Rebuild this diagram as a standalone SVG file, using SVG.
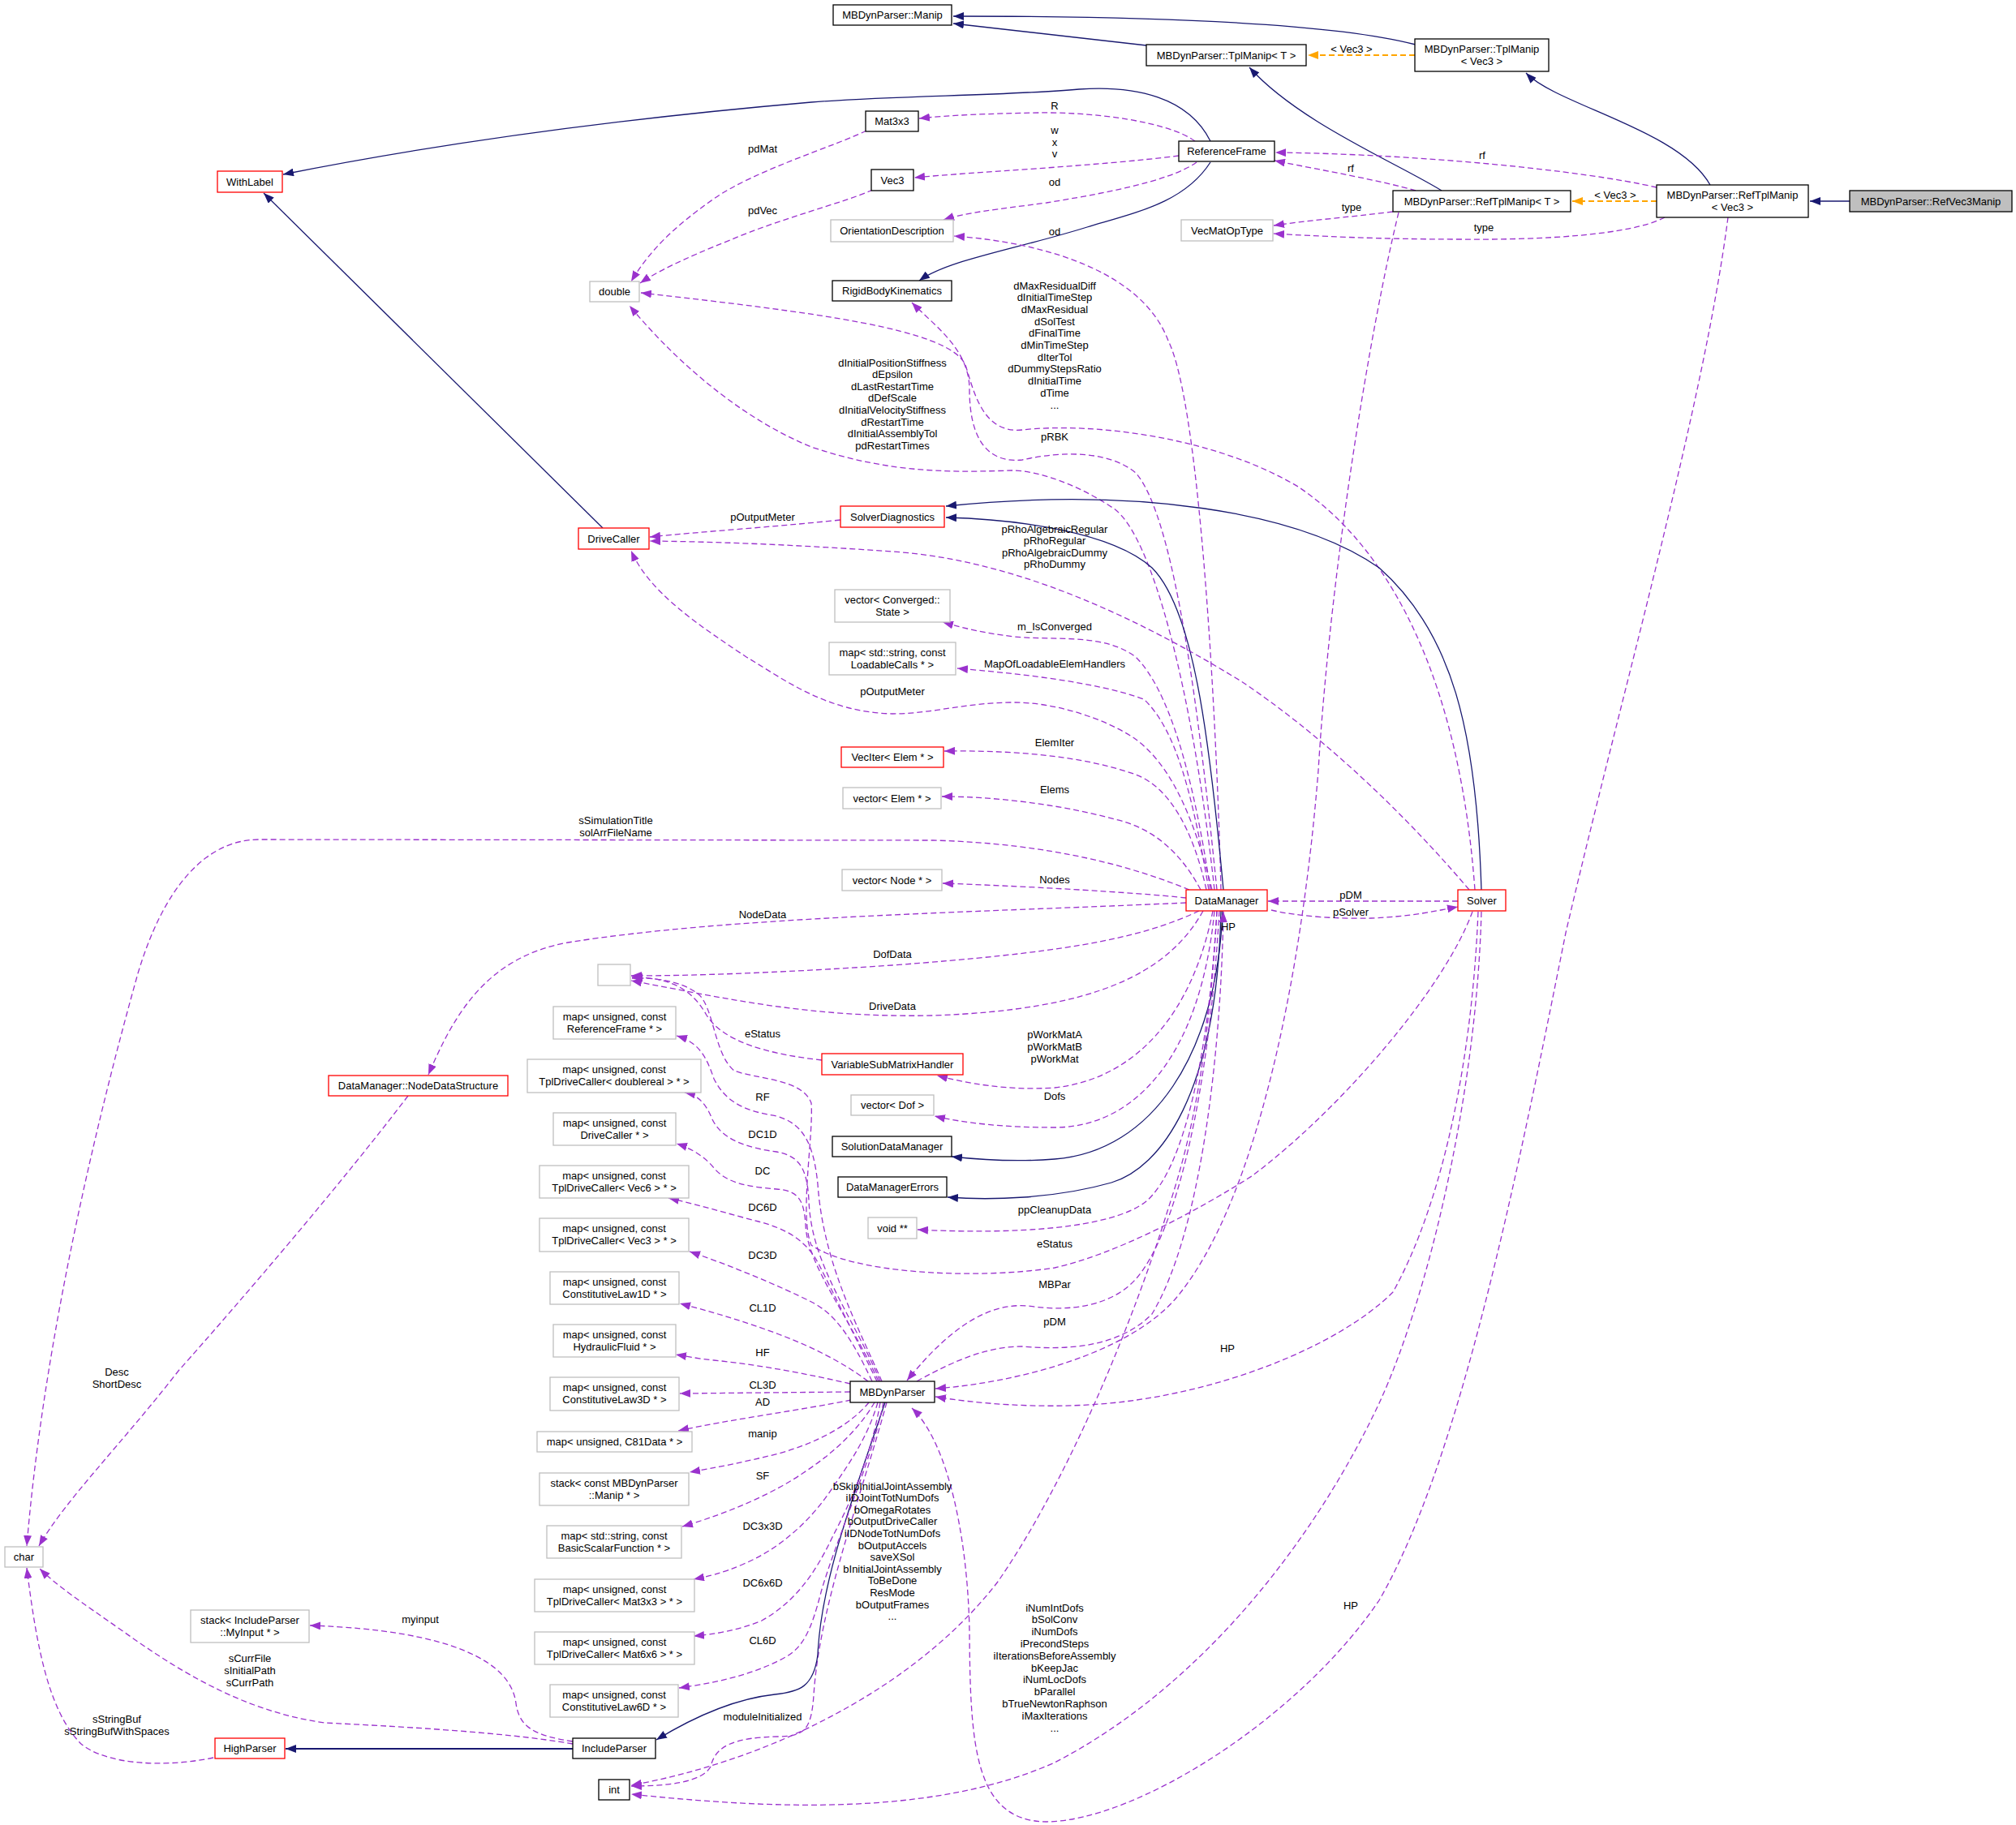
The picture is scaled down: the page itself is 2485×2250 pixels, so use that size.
<svg xmlns="http://www.w3.org/2000/svg" width="2485" height="2250" viewBox="0 0 2485 2250">
<style>
text { font-family: "Liberation Sans", Arial, Helvetica, sans-serif; font-size: 13px; text-anchor: middle; fill: #000; }
.nb rect { fill: #fff; stroke: #000; stroke-width: 1.3; }
.nr rect { fill: #fff; stroke: #ff0000; stroke-width: 1.3; }
.ng rect { fill: #fff; stroke: #bfbfbf; stroke-width: 1.3; }
.nf rect { fill: #bfbfbf; stroke: #000; stroke-width: 1.3; }
.s { fill: none; stroke: #191970; stroke-width: 1.3; marker-end: url(#mb); }
.d { fill: none; stroke: #9a32cd; stroke-width: 1.3; stroke-dasharray: 7,4; marker-end: url(#mp); }
.o { fill: none; stroke: #ffa500; stroke-width: 2; stroke-dasharray: 7,4; marker-end: url(#mo); }
</style>
<defs>
<marker id="mb" markerUnits="userSpaceOnUse" markerWidth="14" markerHeight="10" refX="13" refY="5" orient="auto"><path d="M0,0 L13,5 L0,10 z" fill="#191970"/></marker>
<marker id="mp" markerUnits="userSpaceOnUse" markerWidth="14" markerHeight="10" refX="13" refY="5" orient="auto"><path d="M0,0 L13,5 L0,10 z" fill="#9a32cd"/></marker>
<marker id="mo" markerUnits="userSpaceOnUse" markerWidth="14" markerHeight="10" refX="13" refY="5" orient="auto"><path d="M0,0 L13,5 L0,10 z" fill="#ffa500"/></marker>
</defs>
<rect x="0" y="0" width="2485" height="2250" fill="#fff"/>

<g id="connectors">
<path class="s" d="M1413,56 L1175,29"/>
<path class="s" d="M1745,55 C1650,30 1450,20 1175,20"/>
<path class="o" d="M1744,68 L1612,68"/>
<path class="s" d="M2108,228 C2070,160 1920,130 1881,90"/>
<path class="s" d="M1777,235 C1720,200 1600,150 1540,83"/>
<path class="s" d="M2280,248 L2231,248"/>
<path class="o" d="M2042,248 L1938,248"/>
<path class="s" d="M1492,174 C1465,120 1400,105 1330,110 C1240,118 1100,118 1000,126 C780,145 550,175 349,215"/>
<path class="d" d="M1473,174 C1440,150 1350,138 1280,139 C1220,140 1170,142 1133,146"/>
<path class="d" d="M1453,192 C1350,205 1200,212 1127,219"/>
<path class="d" d="M1475,200 C1440,225 1350,240 1290,250 C1230,258 1190,262 1163,271"/>
<path class="d" d="M1745,235 C1700,222 1630,210 1571,198"/>
<path class="d" d="M2042,231 C1950,210 1750,190 1572,188"/>
<path class="d" d="M1717,261 C1660,268 1610,272 1570,278"/>
<path class="d" d="M2052,268 C2010,290 1900,296 1800,295 C1700,295 1620,291 1570,288"/>
<path class="s" d="M1492,200 C1460,250 1400,262 1340,280 C1250,308 1170,320 1133,346"/>
<path class="d" d="M1068,161 C1030,180 930,210 880,245 C830,280 800,310 778,347"/>
<path class="d" d="M1076,234 C1040,250 960,270 900,296 C840,320 810,335 789,349"/>
<path class="d" d="M1505,1097 C1500,900 1480,500 1440,420 C1410,340 1300,300 1176,291"/>
<path class="d" d="M1500,1097 C1480,900 1450,640 1400,583 C1360,550 1290,560 1260,567 C1210,572 1195,530 1195,480 C1195,430 1150,400 1124,373"/>
<path class="d" d="M1497,1097 C1470,850 1420,660 1373,627 C1330,598 1280,580 1247,580 C1180,582 1100,585 1000,551 C900,510 820,430 776,377"/>
<path class="d" d="M1818,1097 C1800,850 1720,680 1600,600 C1500,540 1350,520 1260,530 C1210,535 1200,480 1190,450 C1170,405 1000,385 790,361"/>
<path class="s" d="M1826,1097 C1820,900 1790,780 1700,700 C1600,630 1400,600 1166,624"/>
<path class="s" d="M1508,1097 C1490,900 1470,750 1420,700 C1370,655 1250,640 1166,638"/>
<path class="s" d="M1507,1123 C1500,1300 1420,1420 1300,1429 C1250,1433 1210,1430 1173,1426"/>
<path class="s" d="M1505,1123 C1500,1350 1430,1440 1370,1458 C1300,1478 1220,1480 1168,1476"/>
<path class="d" d="M1036,641 C950,650 870,655 801,662"/>
<path class="d" d="M1494,1097 C1470,1000 1440,940 1398,910 C1360,885 1300,866 1250,866 C1190,866 1150,880 1100,880 C1020,878 970,840 920,810 C860,770 800,730 778,679"/>
<path class="d" d="M1811,1097 C1720,990 1620,900 1530,840 C1400,760 1250,690 1100,680 C1000,673 900,668 801,667"/>
<path class="d" d="M1492,1097 C1470,950 1440,850 1400,810 C1360,780 1300,790 1250,785 C1210,780 1190,775 1162,767"/>
<path class="d" d="M1490,1097 C1470,980 1450,900 1410,862 C1350,840 1250,830 1180,824"/>
<path class="d" d="M1487,1097 C1470,1020 1440,970 1400,955 C1330,930 1240,925 1164,926"/>
<path class="d" d="M1480,1097 C1455,1050 1420,1020 1374,1010 C1300,990 1220,982 1161,982"/>
<path class="d" d="M1462,1107 C1400,1100 1250,1092 1162,1089"/>
<path class="d" d="M1466,1097 C1400,1070 1300,1040 1150,1036 L320,1035 C250,1035 200,1100 170,1200 C100,1450 50,1700 33,1906"/>
<path class="d" d="M1462,1113 C1200,1125 900,1130 700,1162 C600,1180 560,1250 528,1325"/>
<path class="d" d="M1478,1123 C1400,1160 1300,1175 1100,1190 C950,1200 850,1203 778,1203"/>
<path class="d" d="M1483,1123 C1440,1200 1350,1245 1150,1252 C1000,1255 900,1232 778,1209"/>
<path class="d" d="M1013,1307 C950,1300 890,1285 870,1250 C850,1215 820,1205 779,1205"/>
<path class="d" d="M1495,1123 C1470,1250 1400,1330 1300,1341 C1240,1345 1190,1335 1155,1326"/>
<path class="d" d="M1497,1123 C1480,1300 1400,1390 1300,1390 C1240,1390 1190,1385 1152,1376"/>
<path class="d" d="M1500,1123 C1490,1300 1460,1440 1413,1481 C1370,1515 1250,1522 1131,1516"/>
<path class="d" d="M1503,1123 C1490,1350 1450,1520 1400,1577 C1370,1610 1320,1618 1267,1610 C1210,1605 1160,1650 1118,1702"/>
<path class="d" d="M1130,1703 C1180,1675 1220,1660 1260,1660 C1320,1665 1380,1660 1420,1620 C1480,1520 1505,1300 1508,1124"/>
<path class="d" d="M1822,1124 C1815,1300 1780,1480 1717,1593 C1650,1660 1500,1720 1356,1731 C1280,1737 1200,1730 1153,1722"/>
<path class="d" d="M1724,262 C1690,400 1640,700 1625,950 C1605,1200 1550,1480 1450,1600 C1390,1670 1250,1705 1153,1712"/>
<path class="d" d="M2130,268 C2100,500 2000,850 1930,1150 C1870,1450 1800,1800 1700,1973 C1600,2120 1400,2245 1290,2246 C1200,2245 1196,2150 1195,2011 C1193,1900 1170,1780 1124,1736"/>
<path class="d" d="M1826,1124 C1820,1350 1760,1600 1700,1730 C1620,1900 1480,2080 1300,2173 C1150,2240 950,2230 778,2212"/>
<path class="d" d="M1500,1123 C1490,1300 1470,1400 1440,1490 C1400,1620 1320,1820 1230,1950 C1130,2080 950,2170 778,2201"/>
<path class="d" d="M1093,1729 C1060,1850 1010,1980 1003,2090 C1000,2135 990,2140 960,2141 C905,2142 882,2152 876,2178 C865,2198 820,2202 778,2202"/>
<path class="s" d="M1091,1729 C1050,1850 1012,1950 1008,2040 C1003,2080 985,2086 955,2089 C900,2095 850,2120 809,2145"/>
<path class="s" d="M706,2156 L352,2156" style="stroke-width:2"/>
<path class="d" d="M706,2150 C620,2135 480,2128 400,2124 C300,2110 220,2060 150,2010 C100,1975 70,1955 49,1934"/>
<path class="d" d="M706,2147 C660,2140 640,2130 636,2100 C630,2050 560,2010 382,2004"/>
<path class="d" d="M263,2167 C200,2180 130,2175 100,2150 C60,2110 45,2030 33,1933"/>
<path class="d" d="M503,1351 C420,1460 300,1600 220,1690 C150,1780 80,1850 48,1906"/>
<path class="d" d="M1815,1124 C1780,1220 1650,1370 1543,1450 C1480,1490 1380,1545 1300,1563 C1200,1578 1050,1570 1000,1535 C985,1500 1003,1400 1000,1360 C990,1330 930,1330 905,1320 C880,1300 880,1240 860,1225 C840,1210 810,1205 779,1206"/>
<path class="d" d="M1797,1111 L1563,1111"/>
<path class="d" d="M1567,1122 C1600,1130 1650,1133 1690,1132 C1740,1130 1770,1123 1797,1118"/>
<path class="s" d="M743,651 L325,238"/>
<path class="d" d="M1087,1703 C1060,1640 1015,1560 1008,1460 C1003,1410 990,1385 957,1376 C920,1370 895,1360 880,1330 C870,1300 860,1285 834,1277"/>
<path class="d" d="M1085,1703 C1050,1620 1000,1560 997,1480 C995,1440 985,1425 957,1420 C920,1415 890,1405 878,1380 C870,1360 860,1350 844,1347"/>
<path class="d" d="M1083,1703 C1045,1620 995,1560 993,1510 C991,1480 985,1468 957,1466 C920,1463 895,1458 880,1440 C868,1425 850,1415 834,1410"/>
<path class="d" d="M1081,1703 C1060,1660 1030,1600 1010,1560 C995,1530 970,1515 935,1506 C900,1497 860,1485 824,1477"/>
<path class="d" d="M1075,1703 C1050,1650 1030,1620 1000,1605 C960,1585 900,1560 850,1543"/>
<path class="d" d="M1070,1703 C1040,1680 1000,1660 960,1645 C920,1630 880,1618 838,1607"/>
<path class="d" d="M1048,1706 C1000,1695 940,1683 880,1677 C860,1675 845,1672 833,1670"/>
<path class="d" d="M1048,1716 L838,1718"/>
<path class="d" d="M1049,1726 C990,1738 900,1750 836,1764"/>
<path class="d" d="M1071,1729 C1050,1755 1010,1778 960,1792 C920,1802 880,1810 850,1815"/>
<path class="d" d="M1078,1729 C1060,1760 1030,1790 990,1816 C955,1840 900,1865 841,1882"/>
<path class="d" d="M1082,1729 C1070,1770 1050,1800 1027,1833 C1000,1875 960,1910 917,1928 C890,1940 870,1944 855,1947"/>
<path class="d" d="M1085,1729 C1075,1790 1050,1850 1027,1893 C1005,1940 980,1975 939,1998 C910,2010 880,2015 855,2017"/>
<path class="d" d="M1089,1729 C1075,1800 1030,1900 1012,1963 C1000,2010 990,2030 970,2042 C930,2065 880,2075 837,2081"/>
</g>

<g id="n-manip" class="nb"><rect x="1027" y="6" width="146" height="25"/><text x="1100" y="23">MBDynParser::Manip</text></g>
<g id="n-tplmanip-t" class="nb"><rect x="1413" y="55" width="197" height="26"/><text x="1511.5" y="72.5">MBDynParser::TplManip&lt; T &gt;</text></g>
<g id="n-tplmanip-vec3" class="nb"><rect x="1744" y="48" width="165" height="40"/><text x="1826.5" y="64.5">MBDynParser::TplManip</text><text x="1826.5" y="79.5">&lt; Vec3 &gt;</text></g>
<g id="n-withlabel" class="nr"><rect x="268" y="211" width="80" height="26"/><text x="308" y="228.5">WithLabel</text></g>
<g id="n-mat3x3" class="nb"><rect x="1067" y="137" width="65" height="25"/><text x="1099.5" y="154">Mat3x3</text></g>
<g id="n-referenceframe" class="nb"><rect x="1453" y="174" width="118" height="25"/><text x="1512" y="191">ReferenceFrame</text></g>
<g id="n-vec3" class="nb"><rect x="1074" y="209" width="52" height="26"/><text x="1100" y="226.5">Vec3</text></g>
<g id="n-orientationdescription" class="ng"><rect x="1024" y="271" width="151" height="27"/><text x="1099.5" y="289">OrientationDescription</text></g>
<g id="n-reftplmanip-t" class="nb"><rect x="1717" y="235" width="219" height="26"/><text x="1826.5" y="252.5">MBDynParser::RefTplManip&lt; T &gt;</text></g>
<g id="n-reftplmanip-vec3" class="nb"><rect x="2042" y="228" width="187" height="40"/><text x="2135.5" y="244.5">MBDynParser::RefTplManip</text><text x="2135.5" y="259.5">&lt; Vec3 &gt;</text></g>
<g id="n-refvec3manip" class="nf"><rect x="2280" y="235" width="200" height="26"/><text x="2380" y="252.5">MBDynParser::RefVec3Manip</text></g>
<g id="n-vecmatoptype" class="ng"><rect x="1456" y="271" width="113" height="26"/><text x="1512.5" y="288.5">VecMatOpType</text></g>
<g id="n-double" class="ng"><rect x="727" y="347" width="61" height="25"/><text x="757.5" y="364">double</text></g>
<g id="n-rigidbodykinematics" class="nb"><rect x="1026" y="346" width="147" height="25"/><text x="1099.5" y="363">RigidBodyKinematics</text></g>
<g id="n-drivecaller" class="nr"><rect x="713" y="651" width="87" height="26"/><text x="756.5" y="668.5">DriveCaller</text></g>
<g id="n-solverdiagnostics" class="nr"><rect x="1036" y="624" width="128" height="26"/><text x="1100" y="641.5">SolverDiagnostics</text></g>
<g id="n-vector-converged" class="ng"><rect x="1029" y="727" width="142" height="40"/><text x="1100" y="743.5">vector&lt; Converged::</text><text x="1100" y="758.5">State &gt;</text></g>
<g id="n-map-loadablecalls" class="ng"><rect x="1022" y="792" width="156" height="40"/><text x="1100" y="808.5">map&lt; std::string, const</text><text x="1100" y="823.5">LoadableCalls * &gt;</text></g>
<g id="n-veciter-elem" class="nr"><rect x="1037" y="921" width="126" height="25"/><text x="1100" y="938">VecIter&lt; Elem * &gt;</text></g>
<g id="n-vector-elem" class="ng"><rect x="1039" y="971" width="121" height="26"/><text x="1099.5" y="988.5">vector&lt; Elem * &gt;</text></g>
<g id="n-vector-node" class="ng"><rect x="1038" y="1072" width="123" height="26"/><text x="1099.5" y="1089.5">vector&lt; Node * &gt;</text></g>
<g id="n-datamanager" class="nr"><rect x="1462" y="1097" width="100" height="26"/><text x="1512" y="1114.5">DataManager</text></g>
<g id="n-solver" class="nr"><rect x="1797" y="1097" width="59" height="26"/><text x="1826.5" y="1114.5">Solver</text></g>
<g id="n-nodedatastructure" class="nr"><rect x="405" y="1326" width="221" height="25"/><text x="515.5" y="1343">DataManager::NodeDataStructure</text></g>
<g id="n-empty" class="ng"><rect x="737" y="1189" width="40" height="26"/></g>
<g id="n-map-referenceframe" class="ng"><rect x="682" y="1241" width="151" height="40"/><text x="757.5" y="1257.5">map&lt; unsigned, const</text><text x="757.5" y="1272.5">ReferenceFrame * &gt;</text></g>
<g id="n-map-tpldc-doublereal" class="ng"><rect x="650" y="1306" width="214" height="41"/><text x="757" y="1322.5">map&lt; unsigned, const</text><text x="757" y="1337.5">TplDriveCaller&lt; doublereal &gt; * &gt;</text></g>
<g id="n-map-drivecaller" class="ng"><rect x="682" y="1372" width="151" height="40"/><text x="757.5" y="1388.5">map&lt; unsigned, const</text><text x="757.5" y="1403.5">DriveCaller * &gt;</text></g>
<g id="n-map-tpldc-vec6" class="ng"><rect x="665" y="1437" width="184" height="40"/><text x="757" y="1453.5">map&lt; unsigned, const</text><text x="757" y="1468.5">TplDriveCaller&lt; Vec6 &gt; * &gt;</text></g>
<g id="n-map-tpldc-vec3" class="ng"><rect x="665" y="1502" width="184" height="41"/><text x="757" y="1518.5">map&lt; unsigned, const</text><text x="757" y="1533.5">TplDriveCaller&lt; Vec3 &gt; * &gt;</text></g>
<g id="n-map-cl1d" class="ng"><rect x="678" y="1568" width="159" height="40"/><text x="757.5" y="1584.5">map&lt; unsigned, const</text><text x="757.5" y="1599.5">ConstitutiveLaw1D * &gt;</text></g>
<g id="n-map-hydraulicfluid" class="ng"><rect x="682" y="1633" width="151" height="40"/><text x="757.5" y="1649.5">map&lt; unsigned, const</text><text x="757.5" y="1664.5">HydraulicFluid * &gt;</text></g>
<g id="n-map-cl3d" class="ng"><rect x="678" y="1698" width="159" height="41"/><text x="757.5" y="1714.5">map&lt; unsigned, const</text><text x="757.5" y="1729.5">ConstitutiveLaw3D * &gt;</text></g>
<g id="n-map-c81data" class="ng"><rect x="662" y="1765" width="191" height="25"/><text x="757.5" y="1782">map&lt; unsigned, C81Data * &gt;</text></g>
<g id="n-stack-manip" class="ng"><rect x="665" y="1816" width="184" height="40"/><text x="757" y="1832.5">stack&lt; const MBDynParser</text><text x="757" y="1847.5">::Manip * &gt;</text></g>
<g id="n-map-bsf" class="ng"><rect x="674" y="1881" width="166" height="40"/><text x="757" y="1897.5">map&lt; std::string, const</text><text x="757" y="1912.5">BasicScalarFunction * &gt;</text></g>
<g id="n-map-tpldc-mat3x3" class="ng"><rect x="659" y="1947" width="197" height="40"/><text x="757.5" y="1963.5">map&lt; unsigned, const</text><text x="757.5" y="1978.5">TplDriveCaller&lt; Mat3x3 &gt; * &gt;</text></g>
<g id="n-map-tpldc-mat6x6" class="ng"><rect x="659" y="2012" width="197" height="40"/><text x="757.5" y="2028.5">map&lt; unsigned, const</text><text x="757.5" y="2043.5">TplDriveCaller&lt; Mat6x6 &gt; * &gt;</text></g>
<g id="n-map-cl6d" class="ng"><rect x="678" y="2077" width="158" height="40"/><text x="757" y="2093.5">map&lt; unsigned, const</text><text x="757" y="2108.5">ConstitutiveLaw6D * &gt;</text></g>
<g id="n-variablesubmatrixhandler" class="nr"><rect x="1013" y="1299" width="174" height="26"/><text x="1100" y="1316.5">VariableSubMatrixHandler</text></g>
<g id="n-vector-dof" class="ng"><rect x="1049" y="1350" width="102" height="25"/><text x="1100" y="1367">vector&lt; Dof &gt;</text></g>
<g id="n-solutiondatamanager" class="nb"><rect x="1026" y="1401" width="147" height="25"/><text x="1099.5" y="1418">SolutionDataManager</text></g>
<g id="n-datamanagererrors" class="nb"><rect x="1033" y="1451" width="134" height="25"/><text x="1100" y="1468">DataManagerErrors</text></g>
<g id="n-voidpp" class="ng"><rect x="1070" y="1501" width="60" height="26"/><text x="1100" y="1518.5">void **</text></g>
<g id="n-mbdynparser" class="nb"><rect x="1048" y="1703" width="104" height="26"/><text x="1100" y="1720.5">MBDynParser</text></g>
<g id="n-char" class="ng"><rect x="6" y="1907" width="47" height="25"/><text x="29.5" y="1924">char</text></g>
<g id="n-stack-myinput" class="ng"><rect x="235" y="1985" width="146" height="40"/><text x="308" y="2001.5">stack&lt; IncludeParser</text><text x="308" y="2016.5">::MyInput * &gt;</text></g>
<g id="n-highparser" class="nr"><rect x="265" y="2143" width="86" height="25"/><text x="308" y="2160">HighParser</text></g>
<g id="n-includeparser" class="nb"><rect x="706" y="2143" width="102" height="25"/><text x="757" y="2160">IncludeParser</text></g>
<g id="n-int" class="nb"><rect x="738" y="2194" width="38" height="25"/><text x="757" y="2211">int</text></g>

<g id="edge-labels">
<text x="1666" y="64.5">&lt; Vec3 &gt;</text>
<text x="1991" y="244.5">&lt; Vec3 &gt;</text>
<text x="1300" y="134.5">R</text>
<text x="1300" y="164.5">w</text>
<text x="1300" y="179.5">x</text>
<text x="1300" y="193.5">v</text>
<text x="1300" y="228.5">od</text>
<text x="1300" y="289.5">od</text>
<text x="1827" y="195.5">rf</text>
<text x="1665" y="211.5">rf</text>
<text x="1666" y="259.5">type</text>
<text x="1829" y="284.5">type</text>
<text x="940" y="187.5">pdMat</text>
<text x="940" y="263.5">pdVec</text>
<text x="1300" y="356.5">dMaxResidualDiff</text>
<text x="1300" y="371.2">dInitialTimeStep</text>
<text x="1300" y="385.9">dMaxResidual</text>
<text x="1300" y="400.6">dSolTest</text>
<text x="1300" y="415.3">dFinalTime</text>
<text x="1300" y="430">dMinTimeStep</text>
<text x="1300" y="444.7">dIterTol</text>
<text x="1300" y="459.4">dDummyStepsRatio</text>
<text x="1300" y="474.1">dInitialTime</text>
<text x="1300" y="488.8">dTime</text>
<text x="1300" y="503.5">...</text>
<text x="1100" y="451.5">dInitialPositionStiffness</text>
<text x="1100" y="466.1">dEpsilon</text>
<text x="1100" y="480.7">dLastRestartTime</text>
<text x="1100" y="495.3">dDefScale</text>
<text x="1100" y="509.9">dInitialVelocityStiffness</text>
<text x="1100" y="524.5">dRestartTime</text>
<text x="1100" y="539.1">dInitialAssemblyTol</text>
<text x="1100" y="553.7">pdRestartTimes</text>
<text x="1300" y="542.5">pRBK</text>
<text x="940" y="641.5">pOutputMeter</text>
<text x="1300" y="656.5">pRhoAlgebraicRegular</text>
<text x="1300" y="671.1">pRhoRegular</text>
<text x="1300" y="685.7">pRhoAlgebraicDummy</text>
<text x="1300" y="700.3">pRhoDummy</text>
<text x="1300" y="776.5">m_IsConverged</text>
<text x="1300" y="822.5">MapOfLoadableElemHandlers</text>
<text x="1100" y="856.5">pOutputMeter</text>
<text x="1300" y="919.5">ElemIter</text>
<text x="1300" y="977.5">Elems</text>
<text x="759" y="1015.5">sSimulationTitle</text>
<text x="759" y="1030.5">solArrFileName</text>
<text x="1300" y="1088.5">Nodes</text>
<text x="1665" y="1107.5">pDM</text>
<text x="1665" y="1128.5">pSolver</text>
<text x="940" y="1131.5">NodeData</text>
<text x="1514" y="1146.5">HP</text>
<text x="1100" y="1180.5">DofData</text>
<text x="1100" y="1244.5">DriveData</text>
<text x="940" y="1278.5">eStatus</text>
<text x="1300" y="1279.5">pWorkMatA</text>
<text x="1300" y="1294.5">pWorkMatB</text>
<text x="1300" y="1309.5">pWorkMat</text>
<text x="1300" y="1355.5">Dofs</text>
<text x="940" y="1356.5">RF</text>
<text x="940" y="1402.5">DC1D</text>
<text x="940" y="1447.5">DC</text>
<text x="940" y="1492.5">DC6D</text>
<text x="940" y="1551.5">DC3D</text>
<text x="940" y="1616.5">CL1D</text>
<text x="940" y="1671.5">HF</text>
<text x="940" y="1711.5">CL3D</text>
<text x="940" y="1732.5">AD</text>
<text x="940" y="1771.5">manip</text>
<text x="940" y="1823.5">SF</text>
<text x="940" y="1885.5">DC3x3D</text>
<text x="940" y="1955.5">DC6x6D</text>
<text x="940" y="2026.5">CL6D</text>
<text x="940" y="2120.5">moduleInitialized</text>
<text x="1300" y="1495.5">ppCleanupData</text>
<text x="1300" y="1537.5">eStatus</text>
<text x="1300" y="1587.5">MBPar</text>
<text x="1300" y="1633.5">pDM</text>
<text x="1513" y="1666.5">HP</text>
<text x="1665" y="1983.5">HP</text>
<text x="1100" y="1836.5">bSkipInitialJointAssembly</text>
<text x="1100" y="1851.1">iIDJointTotNumDofs</text>
<text x="1100" y="1865.7">bOmegaRotates</text>
<text x="1100" y="1880.3">bOutputDriveCaller</text>
<text x="1100" y="1894.9">iIDNodeTotNumDofs</text>
<text x="1100" y="1909.5">bOutputAccels</text>
<text x="1100" y="1924.1">saveXSol</text>
<text x="1100" y="1938.7">bInitialJointAssembly</text>
<text x="1100" y="1953.3">ToBeDone</text>
<text x="1100" y="1967.9">ResMode</text>
<text x="1100" y="1982.5">bOutputFrames</text>
<text x="1100" y="1997.1">...</text>
<text x="1300" y="1986.5">iNumIntDofs</text>
<text x="1300" y="2001.3">bSolConv</text>
<text x="1300" y="2016.1">iNumDofs</text>
<text x="1300" y="2030.9">iPrecondSteps</text>
<text x="1300" y="2045.7">iIterationsBeforeAssembly</text>
<text x="1300" y="2060.5">bKeepJac</text>
<text x="1300" y="2075.3">iNumLocDofs</text>
<text x="1300" y="2090.1">bParallel</text>
<text x="1300" y="2104.9">bTrueNewtonRaphson</text>
<text x="1300" y="2119.7">iMaxIterations</text>
<text x="1300" y="2134.5">...</text>
<text x="144" y="1695.5">Desc</text>
<text x="144" y="1710.5">ShortDesc</text>
<text x="518" y="2000.5">myinput</text>
<text x="308" y="2048.5">sCurrFile</text>
<text x="308" y="2063.5">sInitialPath</text>
<text x="308" y="2078.5">sCurrPath</text>
<text x="144" y="2123.5">sStringBuf</text>
<text x="144" y="2139">sStringBufWithSpaces</text>
</g>
</svg>
